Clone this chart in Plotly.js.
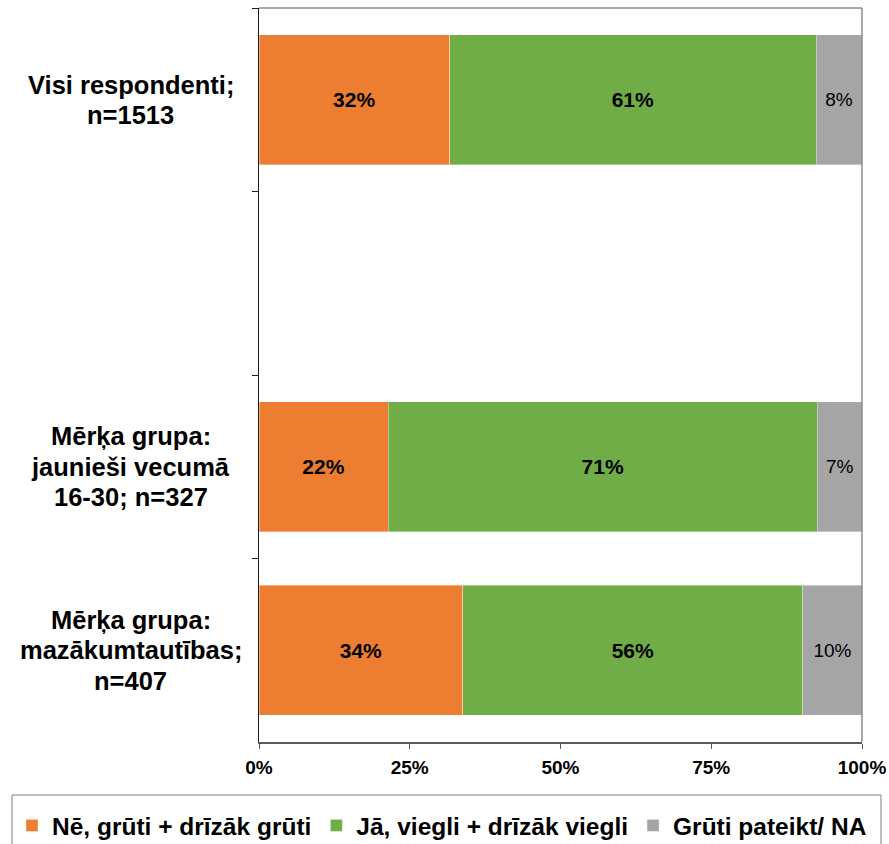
<!DOCTYPE html>
<html>
<head>
<meta charset="utf-8">
<script src="https://cdn.plot.ly/plotly-3.0.1.min.js"></script>
<style>html,body{margin:0;padding:0;background:#fff;}#chart{width:889px;height:844px;}</style>
</head>
<body>
<div id="chart"></div>
<script>
// Categories (top to bottom); the second slot is an empty gap in the original
const categories = ["Visi respondenti;<br>n=1513", " ", "Mērķa grupa:<br>jaunieši vecumā<br>16-30; n=327", "Mērķa grupa:<br>mazākumtautības;<br>n=407"];
const barCategories = [categories[0], categories[2], categories[3]];

const seriesNames = ["Nē, grūti + drīzāk grūti", "Jā, viegli + drīzāk viegli", "Grūti pateikt/ NA"];
const valuesNe = [31.6, 21.4, 33.8];
const valuesJa = [60.8, 71.2, 56.4];
const valuesGruti = [7.6, 7.4, 9.8];
const labelsNe = ["32%", "22%", "34%"];
const labelsJa = ["61%", "71%", "56%"];
const labelsGruti = ["8%", "7%", "10%"];
const xTickVals = [0, 25, 50, 75, 100];
const xTickText = ["0%", "25%", "50%", "75%", "100%"];

const colors = ["#ED7D31", "#70AD47", "#A5A5A5"];
const FONT = "Liberation Sans, Arial, sans-serif";

function barTrace(name, x, text, color, weight, size) {
  return {
    type: "bar", orientation: "h", name: name,
    y: barCategories, x: x, text: text,
    textposition: "inside", insidetextanchor: "middle", constraintext: "none",
    textfont: {family: FONT, size: size, color: "#000", weight: weight},
    marker: {color: color, line: {color: "rgba(255,255,255,0.6)", width: 0.6}},
    hoverinfo: "skip"
  };
}

const data = [
  barTrace(seriesNames[0], valuesNe, labelsNe, colors[0], "bold", 21),
  barTrace(seriesNames[1], valuesJa, labelsJa, colors[1], "bold", 21),
  barTrace(seriesNames[2], valuesGruti, labelsGruti, colors[2], "normal", 19)
];

// Category labels: centred multi-line text, one annotation per line
const LINE_STEP = 30.5;
const annotations = [];
categories.filter(c => c.trim() !== "").forEach(c => {
  const lines = c.split("<br>");
  lines.forEach((ln, i) => {
    annotations.push({
      text: ln, xref: "paper", yref: "y", x: -0.213, y: c,
      yshift: ((lines.length - 1) / 2 - i) * LINE_STEP,
      xanchor: "center", yanchor: "middle", align: "center", showarrow: false,
      font: {family: FONT, size: 25.5, color: "#000", weight: "bold"}
    });
  });
});

const layout = {
  width: 889, height: 844,
  margin: {l: 259, r: 27, t: 8, b: 102, pad: 0, autoexpand: false},
  paper_bgcolor: "#fff", plot_bgcolor: "#fff",
  font: {family: FONT, color: "#000"},
  barmode: "stack", bargap: 0.29,
  showlegend: true,
  xaxis: {
    range: [0, 100], tickvals: xTickVals, ticktext: xTickText,
    showgrid: false, zeroline: false, showline: true, linecolor: "#595959", linewidth: 1.5,
    ticks: "outside", ticklen: 5, tickcolor: "#595959", tickwidth: 1,
    ticklabelstandoff: 3,
    tickfont: {family: FONT, size: 19, color: "#000", weight: "bold"},
    fixedrange: true
  },
  yaxis: {
    type: "category", categoryorder: "array", categoryarray: categories,
    range: [3.5, -0.5], showticklabels: false, showgrid: false, zeroline: false,
    showline: true, linecolor: "#1a1a1a", linewidth: 1.5,
    ticks: "outside", tickson: "boundaries", ticklen: 6, tickcolor: "#1a1a1a", tickwidth: 1,
    fixedrange: true
  },
  shapes: [
    {type: "line", xref: "paper", yref: "paper", x0: 0, x1: 1, y0: 1, y1: 1, line: {color: "#8c8c8c", width: 1.5}},
    {type: "line", xref: "paper", yref: "paper", x0: 1, x1: 1, y0: 0, y1: 1, line: {color: "#8c8c8c", width: 1.5}},
    // legend frame
    {type: "rect", xref: "paper", yref: "paper", x0: -0.4096, x1: 1.0315, y0: -0.0722, y1: -0.16,
     line: {color: "#7f7f7f", width: 1}, fillcolor: "rgba(0,0,0,0)"}
  ],
  annotations: annotations,
  legend: {
    orientation: "h", xref: "paper", yref: "paper",
    x: -0.4096, xanchor: "left", y: -0.0831, yanchor: "top",
    borderwidth: 0, bgcolor: "rgba(0,0,0,0)",
    font: {family: FONT, size: 24.5, color: "#000", weight: "bold"},
    itemwidth: 30, traceorder: "normal", itemclick: false, itemdoubleclick: false
  }
};

Plotly.newPlot("chart", data, layout, {displayModeBar: false, staticPlot: true});
</script>
</body>
</html>
